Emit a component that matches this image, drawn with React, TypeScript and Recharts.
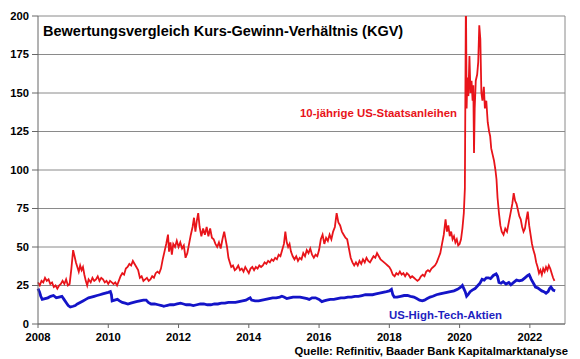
import React from "react";
import { LineChart, Line, XAxis, YAxis, CartesianGrid, ReferenceLine } from "recharts";

const yearTicks = [2008, 2010, 2012, 2014, 2016, 2018, 2020, 2022];
const valueTicks = [0, 25, 50, 75, 100, 125, 150, 175, 200];

const titleText = "Bewertungsvergleich Kurs-Gewinn-Verhältnis (KGV)";
const bondLabel = "10-jährige US-Staatsanleihen";
const techLabel = "US-High-Tech-Aktien";
const sourceText = "Quelle: Refinitiv, Baader Bank Kapitalmarktanalyse";

// 10-year US Treasuries P/E (1 / yield)
const bondYears = [
  2008.0, 2008.05, 2008.1, 2008.15, 2008.2, 2008.25, 2008.3, 2008.35, 2008.4, 2008.45, 2008.5, 2008.55, 2008.6, 2008.65, 2008.7, 2008.75, 2008.8, 2008.85, 2008.9, 2008.95,
  2009.0, 2009.04, 2009.08, 2009.12, 2009.16, 2009.2, 2009.24, 2009.28, 2009.32, 2009.36, 2009.4, 2009.44, 2009.5, 2009.55, 2009.6, 2009.65, 2009.7, 2009.75, 2009.8, 2009.85, 2009.9, 2009.95,
  2010.0, 2010.05, 2010.1, 2010.15, 2010.2, 2010.25, 2010.3, 2010.35, 2010.4, 2010.45, 2010.5, 2010.55, 2010.6, 2010.65, 2010.7, 2010.75, 2010.8, 2010.85, 2010.9, 2010.95,
  2011.0, 2011.05, 2011.1, 2011.15, 2011.2, 2011.25, 2011.3, 2011.35, 2011.4, 2011.45, 2011.5, 2011.55, 2011.6, 2011.65, 2011.7, 2011.73, 2011.77, 2011.81, 2011.85, 2011.9, 2011.95,
  2012.0, 2012.05, 2012.1, 2012.15, 2012.2, 2012.25, 2012.3, 2012.35, 2012.4, 2012.44, 2012.48, 2012.52, 2012.56, 2012.6, 2012.65, 2012.7, 2012.75, 2012.8, 2012.85, 2012.9, 2012.95,
  2013.0, 2013.05, 2013.1, 2013.15, 2013.2, 2013.25, 2013.3, 2013.34, 2013.38, 2013.42, 2013.46, 2013.5, 2013.55, 2013.6, 2013.65, 2013.7, 2013.75, 2013.8, 2013.85, 2013.9, 2013.95,
  2014.0, 2014.05, 2014.1, 2014.15, 2014.2, 2014.25, 2014.3, 2014.35, 2014.4, 2014.45, 2014.5, 2014.55, 2014.6, 2014.65, 2014.7, 2014.75, 2014.8, 2014.85, 2014.9, 2014.95,
  2015.0, 2015.04, 2015.08, 2015.12, 2015.16, 2015.2, 2015.25, 2015.3, 2015.35, 2015.4, 2015.45, 2015.5, 2015.55, 2015.6, 2015.65, 2015.7, 2015.75, 2015.8, 2015.85, 2015.9, 2015.95,
  2016.0, 2016.05, 2016.1, 2016.15, 2016.2, 2016.25, 2016.3, 2016.35, 2016.4, 2016.45, 2016.5, 2016.55, 2016.6, 2016.65, 2016.7, 2016.75, 2016.8, 2016.85, 2016.9, 2016.95,
  2017.0, 2017.05, 2017.1, 2017.15, 2017.2, 2017.25, 2017.3, 2017.35, 2017.4, 2017.45, 2017.5, 2017.55, 2017.6, 2017.65, 2017.7, 2017.75, 2017.8, 2017.85, 2017.9, 2017.95,
  2018.0, 2018.05, 2018.1, 2018.15, 2018.2, 2018.25, 2018.3, 2018.35, 2018.4, 2018.45, 2018.5, 2018.55, 2018.6, 2018.65, 2018.7, 2018.75, 2018.8, 2018.85, 2018.9, 2018.95,
  2019.0, 2019.05, 2019.1, 2019.15, 2019.2, 2019.25, 2019.3, 2019.35, 2019.4, 2019.45, 2019.5, 2019.55, 2019.6, 2019.64, 2019.68, 2019.72, 2019.76, 2019.8, 2019.84, 2019.88, 2019.92, 2019.96,
  2020.0, 2020.04, 2020.08, 2020.12, 2020.15, 2020.18, 2020.2, 2020.22, 2020.25, 2020.28, 2020.31, 2020.34, 2020.37, 2020.39, 2020.41, 2020.43, 2020.46, 2020.5, 2020.53, 2020.56, 2020.59, 2020.62, 2020.65, 2020.69, 2020.72, 2020.76, 2020.8, 2020.84, 2020.87, 2020.9, 2020.94, 2020.98,
  2021.02, 2021.05, 2021.08, 2021.12, 2021.16, 2021.2, 2021.25, 2021.3, 2021.35, 2021.4, 2021.45, 2021.5, 2021.54, 2021.58, 2021.62, 2021.66, 2021.7, 2021.74, 2021.78, 2021.82, 2021.86, 2021.9, 2021.94, 2021.98,
  2022.02, 2022.06, 2022.1, 2022.14, 2022.18, 2022.22, 2022.26, 2022.3, 2022.34, 2022.38, 2022.42, 2022.46, 2022.5, 2022.54, 2022.58, 2022.62, 2022.66, 2022.7,
];
const bondValues = [
  27, 25, 28, 27, 30, 28, 29, 26, 27, 24, 25, 23, 25, 26, 28, 26, 29, 25, 26, 36,
  48, 44, 40, 37, 34, 38, 35, 37, 32, 28, 25, 29, 27, 30, 28, 29, 31, 28, 30, 29, 27, 28,
  26, 28, 27, 26, 27, 25, 28, 31, 33, 32, 36, 37, 39, 38, 41, 39, 37, 35, 30, 31,
  28, 29, 30, 28, 29, 31, 30, 33, 34, 33, 36, 42, 47, 52, 58, 47, 53, 45, 52, 50, 54,
  50, 53, 49, 51, 43, 46, 52, 58, 63, 69, 60, 67, 72, 63, 57, 62, 58, 63, 57, 62, 56,
  55, 52, 50, 53, 49, 55, 60, 55, 50, 43, 40, 37, 38, 35, 36, 38, 35, 36, 34, 37, 35,
  33, 36, 37, 35, 37, 36, 38, 37, 38, 40, 39, 41, 40, 42, 41, 43, 42, 45, 44, 48,
  52, 60, 53, 50, 52, 47, 44, 42, 44, 41, 43, 42, 46, 44, 48, 46, 49, 45, 43, 45, 44,
  48, 55, 58, 52, 56, 54, 58, 55, 60, 63, 72, 66, 64, 60, 58, 56, 55, 49, 43, 40,
  38, 40, 38, 41, 39, 42, 40, 43, 41, 40, 42, 44, 43, 46, 44, 42, 41, 40, 39, 38,
  37, 35, 32, 31, 33, 32, 34, 32, 33, 31, 33, 32, 30, 31, 30, 29, 28, 29, 31, 32,
  31, 34, 35, 34, 36, 37, 38, 40, 43, 46, 52, 58, 68, 60, 64, 57, 60, 55, 57, 53, 55, 51,
  52, 55, 62, 72, 88, 215, 140, 160, 148, 174, 150, 158, 145, 155, 111, 140, 158, 162, 170, 194, 185, 150, 145, 154, 140, 145, 131, 125, 122, 114, 110, 106,
  100, 94, 82, 72, 64, 60, 58, 62, 60, 66, 72, 78, 85, 80, 78, 74, 70, 68, 63, 60, 62, 68, 73, 64,
  58, 52, 48, 45, 40, 37, 33, 35, 32, 36, 34, 37, 35, 38, 36, 33, 30, 28,
];

// US high-tech equities P/E
const techYears = [
  2008.0, 2008.04, 2008.08, 2008.12, 2008.2, 2008.28, 2008.36, 2008.44, 2008.52, 2008.6, 2008.68, 2008.74, 2008.8, 2008.86, 2008.92,
  2009.0, 2009.06, 2009.12, 2009.2, 2009.28, 2009.36, 2009.44, 2009.52, 2009.6, 2009.68, 2009.76, 2009.84, 2009.92,
  2010.0, 2010.06, 2010.09, 2010.11, 2010.18, 2010.26, 2010.32, 2010.4, 2010.48, 2010.56, 2010.64, 2010.72, 2010.8, 2010.9,
  2011.0, 2011.08, 2011.14, 2011.22, 2011.32, 2011.42, 2011.52, 2011.58, 2011.66, 2011.76, 2011.86, 2011.96,
  2012.06, 2012.14, 2012.22, 2012.32, 2012.42, 2012.52, 2012.62, 2012.72, 2012.82, 2012.92,
  2013.02, 2013.12, 2013.22, 2013.32, 2013.42, 2013.52, 2013.62, 2013.72, 2013.82, 2013.92,
  2014.0, 2014.04, 2014.08, 2014.18, 2014.28, 2014.38, 2014.48, 2014.58, 2014.68, 2014.78, 2014.88, 2014.94,
  2015.0, 2015.08, 2015.16, 2015.26, 2015.36, 2015.46, 2015.56, 2015.66, 2015.72, 2015.8, 2015.9,
  2016.0, 2016.08, 2016.14, 2016.22, 2016.32, 2016.42, 2016.52, 2016.62, 2016.72, 2016.82, 2016.92,
  2017.02, 2017.12, 2017.22, 2017.32, 2017.42, 2017.52, 2017.62, 2017.72, 2017.82, 2017.92,
  2018.0, 2018.06, 2018.1, 2018.14, 2018.22, 2018.32, 2018.42, 2018.52, 2018.6, 2018.7, 2018.78, 2018.86, 2018.94,
  2019.0, 2019.08, 2019.16, 2019.24, 2019.34, 2019.44, 2019.54, 2019.64, 2019.74, 2019.84, 2019.94,
  2020.04, 2020.08, 2020.12, 2020.16, 2020.2, 2020.24, 2020.3, 2020.36, 2020.44, 2020.52, 2020.58, 2020.64, 2020.7, 2020.76, 2020.82, 2020.88, 2020.96,
  2021.04, 2021.08, 2021.12, 2021.18, 2021.24, 2021.32, 2021.4, 2021.46, 2021.54, 2021.62, 2021.7, 2021.78, 2021.86, 2021.94, 2021.98,
  2022.04, 2022.1, 2022.16, 2022.22, 2022.28, 2022.34, 2022.4, 2022.46, 2022.52, 2022.56, 2022.6, 2022.66, 2022.72,
];
const techValues = [
  23, 21, 18, 16, 16.5, 17, 18, 18.5, 17, 17.5, 18, 16, 14, 12, 11,
  11.5, 12, 13, 14, 15, 16, 17, 17.5, 18, 18.5, 19, 19.5, 20,
  20.5, 21, 19, 15, 15.5, 16, 15, 14, 13.5, 13, 13.5, 14, 14.5, 15,
  15.5, 15.5, 14, 13, 13, 12.5, 12, 11.5, 12, 12.5, 12.5, 13,
  13.5, 13, 12.5, 12.5, 12, 12.5, 13, 13, 12.5, 12.5,
  13, 13, 13.5, 13.5, 14, 14, 14, 14.5, 15, 15.5,
  16.5, 17, 15.5, 15, 15, 15.5, 16, 16.5, 17, 17, 17.5, 18,
  17.5, 16.5, 17, 17.5, 17.5, 17.5, 17, 16.5, 16, 17, 17,
  16, 14.5, 15, 15.5, 16, 16, 16.5, 17, 17, 17.5, 17.5,
  18, 18, 18.5, 19, 19, 19, 19.5, 20, 20.5, 21,
  21.5, 22.5, 19, 17.5, 17.5, 18, 18.5, 18.5, 18, 17.5, 16.5, 15.5, 15,
  15.5, 16.5, 17.5, 18, 19, 19.5, 20, 20.5, 21, 21.5, 22.5,
  24, 25, 23, 21, 18, 19, 21, 22, 23, 25, 26.5, 29, 28.5, 30, 30, 29.5, 31.5,
  32.5, 31, 27, 26.5, 27.5, 26, 27, 25.5, 27, 28.5, 28, 28.5, 30, 31.5, 32,
  29, 26.5, 24, 23.5, 22.5, 21.5, 21, 20, 21, 23, 24, 22, 21.5,
];

const bondData = bondYears.map((t, i) => ({ t, v: bondValues[i] }));
const techData = techYears.map((t, i) => ({ t, v: techValues[i] }));

const FONT = "'Liberation Sans', Arial, sans-serif";
const tickStyle = { fontFamily: FONT, fontSize: 11.2, fontWeight: 700, fill: "#000" };

export default function App() {
  return (
    <div style={{ position: "absolute", left: 0, top: 0, width: 580, height: 359, background: "#fff" }}>
      <LineChart width={580} height={359} margin={{ top: 16, right: 15, bottom: 0, left: 0 }}>
        <CartesianGrid horizontal={true} vertical={false} stroke="#8a8a8a" strokeWidth={1} />
        <XAxis
          dataKey="t"
          type="number"
          domain={[2008, 2023]}
          ticks={yearTicks}
          allowDuplicatedCategory={false}
          height={35}
          tickSize={4}
          tickMargin={5}
          stroke="#666"
          tick={tickStyle}
        />
        <YAxis
          type="number"
          domain={[0, 200]}
          ticks={valueTicks}
          allowDataOverflow={true}
          width={38}
          tickSize={6}
          tickMargin={3}
          stroke="#666"
          tick={tickStyle}
        />
        <ReferenceLine x={2023} stroke="#8a8a8a" strokeWidth={1} />
        <Line
          data={bondData}
          dataKey="v"
          type="linear"
          stroke="#e8141a"
          strokeWidth={1.8}
          dot={false}
          isAnimationActive={false}
        />
        <Line
          data={techData}
          dataKey="v"
          type="linear"
          stroke="#1414c8"
          strokeWidth={2.8}
          dot={false}
          isAnimationActive={false}
        />
      </LineChart>
      <svg width={580} height={359} style={{ position: "absolute", left: 0, top: 0, pointerEvents: "none" }}>
        <text x={43} y={36} fontFamily={FONT} fontSize={14.5} fontWeight={700} fill="#000">{titleText}</text>
        <text x={300} y={117} fontFamily={FONT} fontSize={11.4} fontWeight={700} fill="#e8141a">{bondLabel}</text>
        <text x={389} y={319} fontFamily={FONT} fontSize={11.4} fontWeight={700} fill="#1e1ec0">{techLabel}</text>
        <text x={568} y={355} textAnchor="end" fontFamily={FONT} fontSize={11.3} fontWeight={700} fill="#000">{sourceText}</text>
      </svg>
    </div>
  );
}
